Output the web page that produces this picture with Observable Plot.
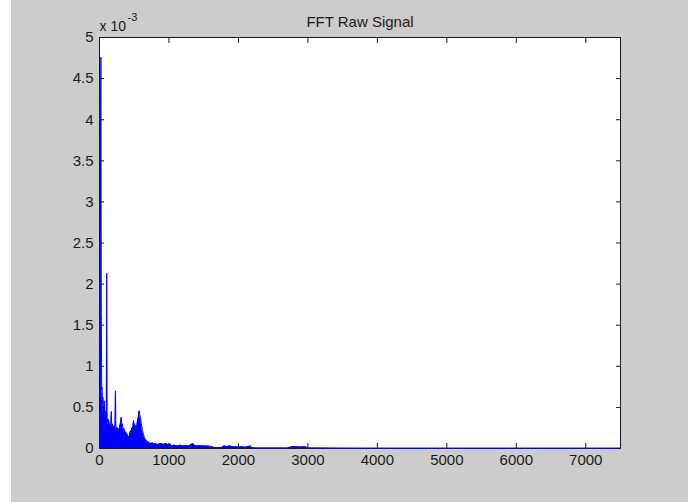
<!DOCTYPE html>
<html><head><meta charset="utf-8">
<script src="https://cdn.jsdelivr.net/npm/d3@7"></script>
<script src="https://cdn.jsdelivr.net/npm/@observablehq/plot@0.6"></script>
<style>
html,body{margin:0;padding:0;background:#fff;}
#fig{position:absolute;left:11px;top:0;width:677px;height:502px;background:#cccccc;}
</style></head><body><div id="fig"></div>
<script>
// Frequency (Hz) and FFT magnitude (in units of 1e-3)
const freqHz = [0,8,20,26,32,38,44,50,56,62,68,74,80,86,92,98,104,110,116,122,128,134,140,146,152,158,164,170,176,182,188,194,200,206,212,218,224,230,236,242,248,254,260,268,276,284,292,300,306,312,318,324,330,338,346,354,362,370,378,386,394,402,410,418,426,434,442,450,458,466,474,482,490,498,506,514,522,530,538,546,554,562,570,578,586,594,602,610,618,626,634,642,650,660,670,680,690,700,715,730,745,760,780,800,830,860,890,920,950,980,1010,1040,1080,1120,1160,1200,1240,1280,1320,1345,1370,1400,1450,1500,1550,1600,1650,1700,1760,1790,1830,1880,1920,1980,2050,2100,2170,2200,2300,2500,2700,2790,2830,2900,2960,3000,3500,4000,5000,6000,7000,7500];
const ampE3 = [0.3,1.6,4.76,1.64,0.72,0.74,0.55,0.62,0.44,0.5,0.58,0.4,0.46,0.38,0.42,0.36,2.13,0.38,0.32,0.36,0.28,0.34,0.27,0.3,0.25,0.28,0.26,0.45,0.28,0.25,0.3,0.24,0.27,0.24,0.28,0.23,0.26,0.7,0.25,0.22,0.26,0.23,0.25,0.21,0.24,0.22,0.27,0.3,0.33,0.38,0.32,0.28,0.3,0.25,0.23,0.24,0.2,0.21,0.18,0.19,0.16,0.17,0.14,0.15,0.14,0.17,0.2,0.22,0.21,0.25,0.24,0.27,0.34,0.28,0.3,0.26,0.28,0.24,0.27,0.33,0.36,0.4,0.46,0.42,0.38,0.36,0.3,0.27,0.22,0.2,0.17,0.14,0.13,0.11,0.1,0.09,0.08,0.085,0.07,0.065,0.06,0.07,0.055,0.06,0.05,0.055,0.06,0.05,0.06,0.05,0.055,0.035,0.04,0.03,0.04,0.03,0.035,0.03,0.05,0.06,0.04,0.03,0.035,0.03,0.03,0.025,0.012,0.01,0.012,0.03,0.025,0.03,0.02,0.018,0.02,0.015,0.03,0.008,0.005,0.006,0.005,0.025,0.02,0.018,0.022,0.006,0.004,0.003,0.003,0.003,0.003,0.003];
const xTicks = [0,1000,2000,3000,4000,5000,6000,7000];
const xTickLabels = ["0","1000","2000","3000","4000","5000","6000","7000"];
const yTicks = [0,0.5,1,1.5,2,2.5,3,3.5,4,4.5,5];
const yTickLabels = ["0","0.5","1","1.5","2","2.5","3","3.5","4","4.5","5"];
const xDomain = [0,7500];
const yDomain = [0,5];
const titleText = "FFT Raw Signal";
const multiplierBase = "x 10";
const multiplierExp = "-3";

const rows = freqHz.map((f,i)=>({f, a: ampE3[i]}));
const font = "'Liberation Sans', Arial, Helvetica, sans-serif";
const ink = "#1a1a1a";

const chart = Plot.plot({
  width: 677, height: 502,
  marginLeft: 88, marginRight: 68, marginTop: 37, marginBottom: 54,
  x: {domain: xDomain, label: null},
  y: {domain: yDomain, label: null},
  style: {background: "transparent", fontFamily: font, fontSize: "15px", color: ink, overflow: "visible"},
  marks: [
    Plot.frame({fill: "white", stroke: ink}),
    Plot.axisX(xTicks, {anchor: "bottom", tickSize: -5, tickPadding: 11, stroke: ink, fill: ink, label: null,
      tickFormat: d => xTickLabels[xTicks.indexOf(d)]}),
    Plot.axisX(xTicks, {anchor: "top", tickSize: -5, stroke: ink, label: null, tickFormat: () => ""}),
    Plot.axisY(yTicks, {anchor: "left", tickSize: -5, tickPadding: 11, stroke: ink, fill: ink, label: null,
      tickFormat: d => yTickLabels[yTicks.indexOf(d)]}),
    Plot.axisY(yTicks, {anchor: "right", tickSize: -5, stroke: ink, label: null, tickFormat: () => ""}),
    Plot.areaY(rows, {x: "f", y: "a", fill: "#0000ff", curve: "linear"}),
    Plot.lineY(rows, {x: "f", y: "a", stroke: "#0000ff", strokeWidth: 1, curve: "linear"}),
    Plot.text([titleText], {frameAnchor: "top", dy: -11, lineAnchor: "bottom", fontSize: 15, fill: ink}),
    Plot.text([multiplierBase], {frameAnchor: "top-left", dy: -7, lineAnchor: "bottom", textAnchor: "start", fontSize: 14, fill: ink}),
    Plot.text([multiplierExp], {frameAnchor: "top-left", dx: 28, dy: -17, lineAnchor: "bottom", textAnchor: "start", fontSize: 11, fill: ink})
  ]
});
document.getElementById("fig").appendChild(chart);
</script>
</body></html>
